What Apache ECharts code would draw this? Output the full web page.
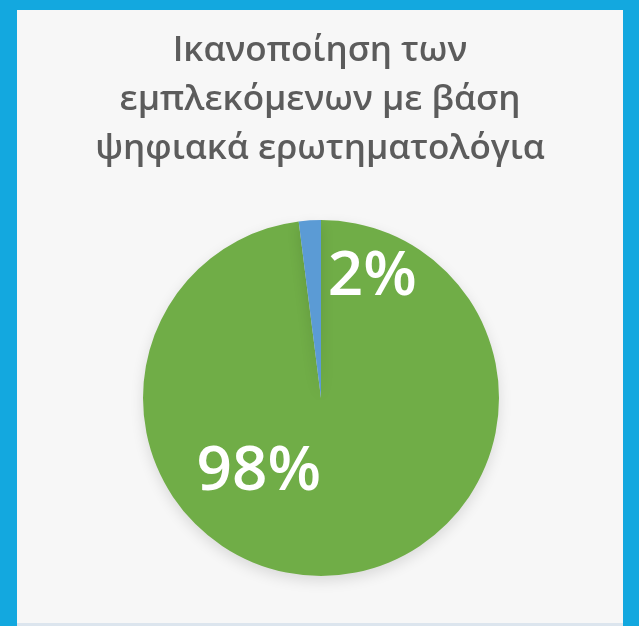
<!DOCTYPE html>
<html>
<head>
<meta charset="utf-8">
<script src="https://cdn.jsdelivr.net/npm/echarts@6/dist/echarts.min.js"></script>
<style>
html,body{margin:0;padding:0;width:639px;height:626px;background:#13a8df;overflow:hidden;}
#chart{position:absolute;left:17px;top:10px;width:606px;height:613px;background:#f7f7f7;}
#strip{position:absolute;left:17px;top:623px;width:606px;height:3px;background:#dce5ee;}
</style>
</head>
<body>
<div id="chart"></div>
<div id="strip"></div>
<script>
const titleText = "Ικανοποίηση των\nεμπλεκόμενων με βάση\nψηφιακά ερωτηματολόγια";
const categories = ["Ικανοποιημένοι", "Μη ικανοποιημένοι"];
const values = [98, 2];
const colors = ["#70ad47", "#5b9bd5"];
const labelOffsets = [[-68, -17], [57, -29]];

const chart = echarts.init(document.getElementById('chart'));
chart.setOption({
  backgroundColor: 'transparent',
  animation: false,
  title: {
    text: titleText,
    left: 'center',
    top: 17,
    padding: 0,
    textStyle: {
      fontFamily: 'Open Sans',
      fontSize: 35,
      fontWeight: 600,
      color: '#5c5c5c',
      lineHeight: 49
    }
  },
  series: [{
    type: 'pie',
    center: [304, 388],
    radius: [0, 178],
    startAngle: 90,
    clockwise: true,
    silent: true,
    itemStyle: {
      shadowBlur: 14,
      shadowColor: 'rgba(0,0,0,0.12)',
      shadowOffsetY: 5
    },
    label: {
      show: true,
      position: 'inside',
      formatter: '{d}%',
      color: '#ffffff',
      fontFamily: 'Open Sans',
      fontSize: 62,
      fontWeight: 600
    },
    labelLine: {show: false},
    data: categories.map((c, i) => ({
      name: c,
      value: values[i],
      itemStyle: {color: colors[i]},
      label: {offset: labelOffsets[i]}
    }))
  }]
});
</script>
</body>
</html>
